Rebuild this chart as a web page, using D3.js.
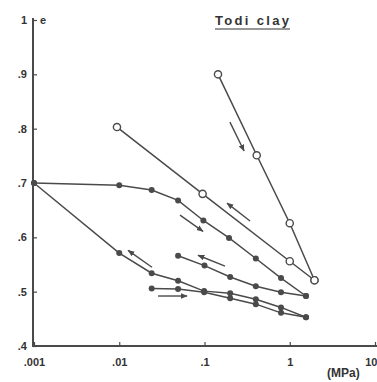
<!DOCTYPE html>
<html>
<head>
<meta charset="utf-8">
<script src="https://cdn.jsdelivr.net/npm/d3@7"></script>
<style>
html,body{margin:0;padding:0;background:#fff;}
svg{display:block;}
</style>
</head>
<body>
<script>
// ---- data (pressure in MPa, void ratio e) ----
const xTicks = [0.001, 0.01, 0.1, 1, 10];
const xTickLabels = [".001", ".01", ".1", "1", "10"];
const yTicks = [0.4, 0.5, 0.6, 0.7, 0.8, 0.9, 1.0];
const yTickLabels = [".4", ".5", ".6", ".7", ".8", ".9", "1"];

// open-circle (loading) series
const openA_p = [0.144, 0.41, 1.0, 1.95];
const openA_e = [0.900, 0.751, 0.626, 0.521];
const openB_p = [0.0094, 0.095, 1.0, 1.95];
const openB_e = [0.803, 0.680, 0.556, 0.521];

// filled-circle series
const fillC_p = [0.001, 0.01, 0.024, 0.049, 0.097, 0.194, 0.40, 0.79, 1.55];
const fillC_e = [0.700, 0.696, 0.687, 0.668, 0.631, 0.599, 0.561, 0.525, 0.492];
const fillD_p = [0.001, 0.01, 0.024, 0.049, 0.099, 0.20, 0.40, 0.79, 1.55];
const fillD_e = [0.700, 0.571, 0.534, 0.520, 0.501, 0.497, 0.486, 0.471, 0.453];
const fillE_p = [0.049, 0.10, 0.20, 0.40, 0.79, 1.55];
const fillE_e = [0.566, 0.548, 0.527, 0.510, 0.499, 0.492];
const fillF_p = [0.024, 0.049, 0.099, 0.20, 0.40, 0.79, 1.55];
const fillF_e = [0.506, 0.505, 0.499, 0.488, 0.477, 0.461, 0.453];

// direction arrows: [p0, e0, p1, e1] with head at (p1,e1)
const arrows = [
  [0.342, 0.630, 0.184, 0.663],
  [0.0516, 0.641, 0.096, 0.611],
  [0.174, 0.547, 0.084, 0.567],
  [0.0242, 0.545, 0.0127, 0.576],
  [0.0285, 0.492, 0.0623, 0.492],
  [0.199, 0.812, 0.291, 0.759]
];

const W = 377, H = 382;
const ink = "#4a4a4a";
const svg = d3.select("body").append("svg").attr("width", W).attr("height", H)
  .style("font-family", "'Liberation Sans', Arial, sans-serif");

const x = d3.scaleLog().domain([0.001, 10]).range([34, 375]);
const y = d3.scaleLinear().domain([0.4, 1.0]).range([346, 20]);

svg.append("defs").append("marker")
  .attr("id", "ah").attr("viewBox", "0 0 10 10").attr("refX", 9).attr("refY", 5)
  .attr("markerWidth", 5).attr("markerHeight", 5).attr("orient", "auto")
  .append("path").attr("d", "M0,1 L10,5 L0,9 z").attr("fill", ink);

// axes
const xAxis = d3.axisBottom(x).tickValues(xTicks).tickSize(-4).tickFormat((d,i)=>xTickLabels[i]).tickPadding(12);
const gx = svg.append("g").attr("transform", "translate(0,346)").call(xAxis);
gx.select(".domain").attr("d", "M33,0H377").attr("stroke", ink).attr("stroke-width", 2);
gx.selectAll(".tick line").attr("stroke", ink).attr("stroke-width", 1.2);
gx.selectAll(".tick text").attr("fill", "#333").attr("font-size", 11).attr("font-weight", "bold");
gx.selectAll(".tick text").filter((d) => d === 10).attr("text-anchor", "end").attr("dx", 2);

const yAxis = d3.axisLeft(y).tickValues(yTicks).tickSize(-4).tickFormat((d,i)=>yTickLabels[i]).tickPadding(6);
const gy = svg.append("g").attr("transform", "translate(33,0)").call(yAxis);
gy.select(".domain").attr("d", "M0,18V347").attr("stroke", ink).attr("stroke-width", 2);
gy.selectAll(".tick line").attr("stroke", ink).attr("stroke-width", 1.2);
gy.selectAll(".tick text").attr("fill", "#333").attr("font-size", 11).attr("font-weight", "bold");

// labels
svg.append("text").attr("x", 40).attr("y", 24).text("e")
  .attr("font-size", 11).attr("font-weight", "bold").attr("fill", "#333");
svg.append("text").attr("x", 215).attr("y", 25).text("Todi clay")
  .attr("font-size", 13).attr("font-weight", "bold").attr("fill", "#333")
  .attr("textLength", 74).attr("lengthAdjust", "spacing");
svg.append("line").attr("x1", 215).attr("x2", 290).attr("y1", 29).attr("y2", 29)
  .attr("stroke", "#333").attr("stroke-width", 1.2);
svg.append("text").attr("x", 327).attr("y", 377).text("(MPa)")
  .attr("font-size", 12).attr("font-weight", "bold").attr("fill", "#333");

const line = d3.line().x(d => x(d[0])).y(d => y(d[1]));
const zip = (a, b) => a.map((v, i) => [v, b[i]]);

const filled = [zip(fillC_p, fillC_e), zip(fillD_p, fillD_e), zip(fillE_p, fillE_e), zip(fillF_p, fillF_e)];
const open = [zip(openA_p, openA_e), zip(openB_p, openB_e)];

[...filled, ...open].forEach(s => {
  svg.append("path").attr("d", line(s)).attr("fill", "none")
    .attr("stroke", ink).attr("stroke-width", 1.5);
});
filled.forEach(s => {
  svg.append("g").selectAll("circle").data(s).join("circle")
    .attr("cx", d => x(d[0])).attr("cy", d => y(d[1])).attr("r", 3)
    .attr("fill", ink);
});
open.forEach(s => {
  svg.append("g").selectAll("circle").data(s).join("circle")
    .attr("cx", d => x(d[0])).attr("cy", d => y(d[1])).attr("r", 3.6)
    .attr("fill", "#fff").attr("stroke", ink).attr("stroke-width", 1.4);
});

// arrows
svg.append("g").selectAll("line").data(arrows).join("line")
  .attr("x1", d => x(d[0])).attr("y1", d => y(d[1]))
  .attr("x2", d => x(d[2])).attr("y2", d => y(d[3]))
  .attr("stroke", ink).attr("stroke-width", 1.4)
  .attr("marker-end", "url(#ah)");
</script>
</body>
</html>
